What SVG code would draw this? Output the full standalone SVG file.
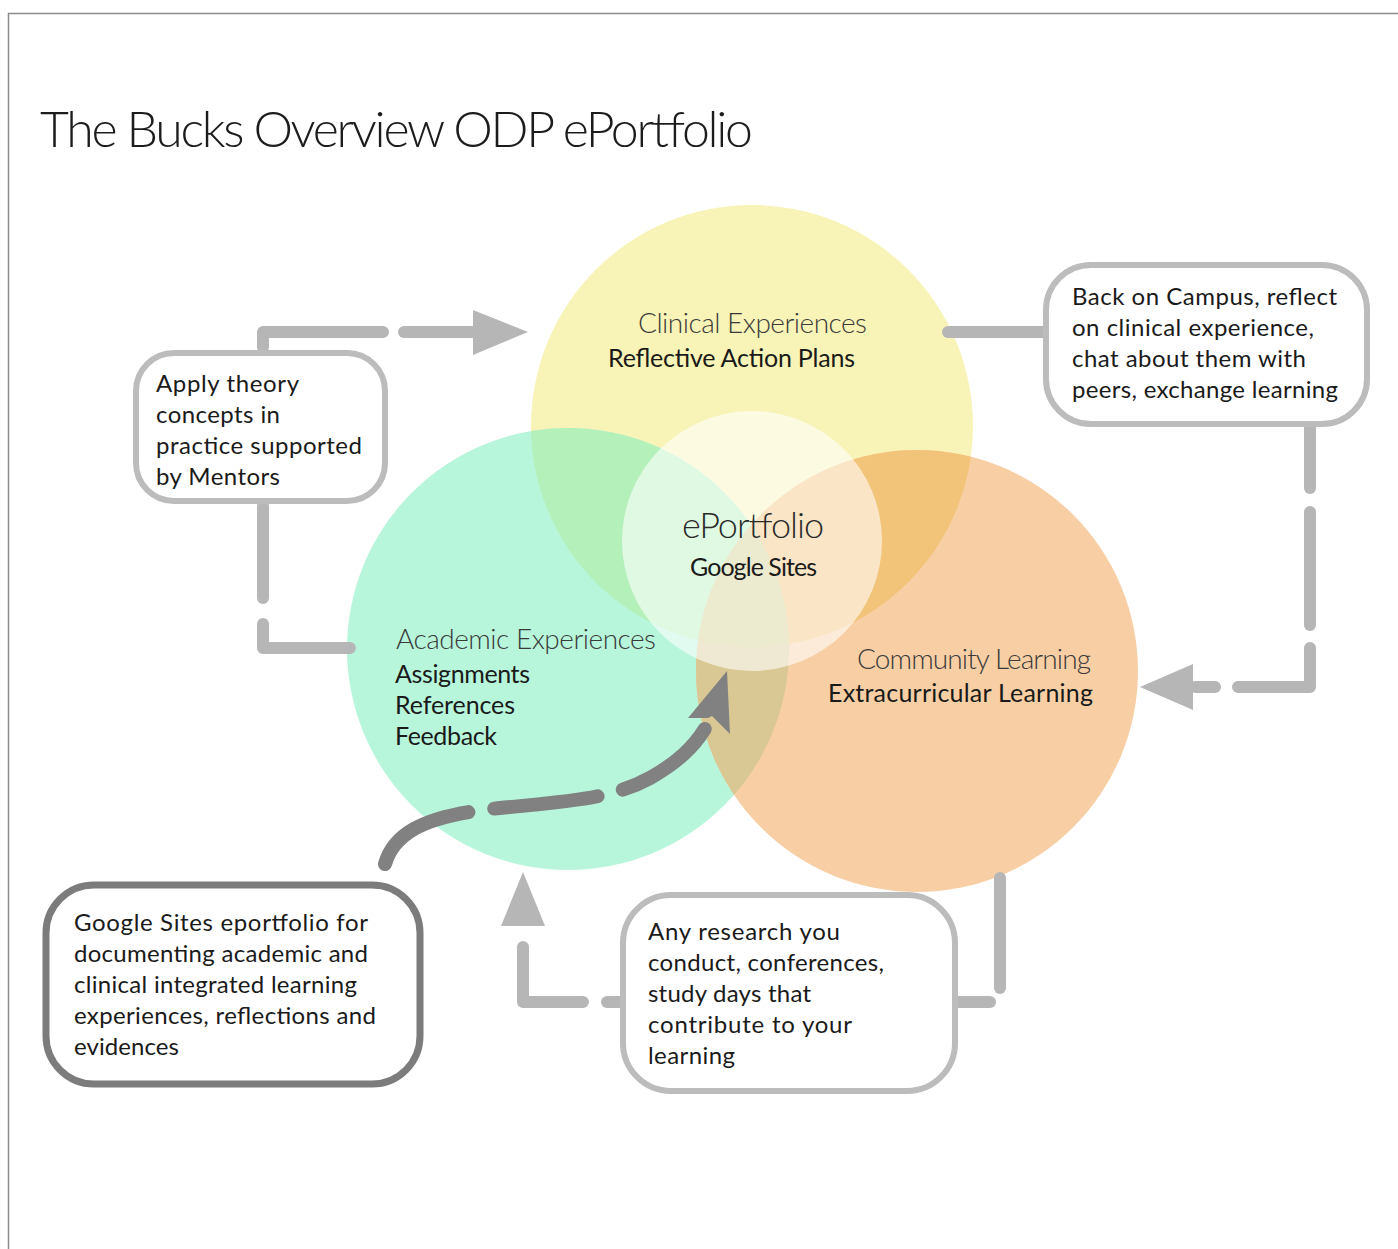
<svg xmlns="http://www.w3.org/2000/svg" width="1398" height="1249" viewBox="0 0 1398 1249">
  <defs>
    <style>
      .title { font-family: Lato, "Liberation Sans", sans-serif; font-weight: 300; font-size: 50px; fill: #1c1c1c; }
      .head { font-family: Lato, "Liberation Sans", sans-serif; font-weight: 300; font-size: 28px; fill: #3a3a3a; }
      .core { font-family: Lato, "Liberation Sans", sans-serif; font-weight: 300; font-size: 36px; fill: #2a2a2a; }
      .sub { font-family: Lato, "Liberation Sans", sans-serif; font-size: 25px; fill: #1a1a1a; }
      .body { font-family: Lato, "Liberation Sans", sans-serif; font-size: 24px; fill: #1a1a1a; }
      .box { fill: #ffffff; stroke: #bcbcbc; stroke-width: 6; }
      .box-dark { fill: #ffffff; stroke: #7c7c7c; stroke-width: 7; }
      .link { fill: none; stroke: #b6b6b6; stroke-width: 12; stroke-linecap: round; stroke-linejoin: round; }
      .head-fill { fill: #b6b6b6; }
      .flow { fill: none; stroke: #818181; stroke-width: 14; stroke-linecap: round; stroke-dasharray: 104 26; }
    </style>
    <clipPath id="inClinical"><circle cx="752" cy="426" r="221"/></clipPath>
    <clipPath id="inAcademic"><circle cx="568" cy="649" r="221"/></clipPath>
  </defs>

  <rect width="1398" height="1249" fill="#ffffff"/>
  <!-- page frame -->
  <path d="M8.5,1249 V13.5 H1398" fill="none" stroke="#8c8c8c" stroke-width="1.5"/>

  <text class="title" x="40" y="147" textLength="713">The Bucks Overview ODP ePortfolio</text>

  <!-- overlapping learning areas -->
  <g id="clinical">
    <circle cx="752" cy="426" r="221" fill="#f8f3b6"/>
  </g>
  <g id="academic">
    <circle cx="568" cy="649" r="221" fill="#b8f6dc"/>
  </g>
  <g id="community">
    <circle cx="917" cy="671" r="221" fill="#f8cfa5"/>
  </g>
  <g id="overlaps">
    <g clip-path="url(#inClinical)">
      <circle cx="568" cy="649" r="221" fill="#b4f0b9"/>
      <circle cx="917" cy="671" r="221" fill="#f2c47a"/>
    </g>
    <g clip-path="url(#inAcademic)">
      <circle cx="917" cy="671" r="221" fill="#d9c893"/>
      <g clip-path="url(#inClinical)">
        <circle cx="917" cy="671" r="221" fill="#d2cf8c"/>
      </g>
    </g>
  </g>
  <g id="eportfolio">
    <circle cx="752" cy="541" r="130" fill="#ffffff" fill-opacity="0.58"/>
  </g>

  <!-- connectors -->
  <g id="connectors">
    <!-- mentors box to clinical -->
    <path class="link" d="M263,347 V332 H383"/>
    <path class="link" d="M404,332 H478"/>
    <polygon class="head-fill" points="473,310 528,332 473,355"/>
    <!-- mentors box to academic -->
    <path class="link" d="M263,506 V598"/>
    <path class="link" d="M263,624 V648 H350"/>
    <!-- clinical to campus box -->
    <path class="link" d="M948,332 H1044"/>
    <!-- campus box to community -->
    <path class="link" d="M1310,428 V488"/>
    <path class="link" d="M1310,512 V625"/>
    <path class="link" d="M1310,648 V687 H1238"/>
    <path class="link" d="M1215,687 H1195"/>
    <polygon class="head-fill" points="1193,664 1140,687 1193,710"/>
    <!-- community to research box -->
    <path class="link" d="M1000,878 V988"/>
    <path class="link" d="M958,1002 H990"/>
    <!-- research box to academic -->
    <path class="link" d="M619,1002 H607"/>
    <path class="link" d="M583,1002 H523 V947"/>
    <polygon class="head-fill" points="501,926 523,872 545,926"/>
    <!-- google sites box into the ePortfolio -->
    <path class="flow" d="M385,864 C396,826 440,814 500,808 C560,802 610,800 650,778 C685,758 700,740 712,716"/>
    <polygon fill="#818181" points="727,671 688,718 708,718 712,716 730,734"/>
  </g>

  <!-- text boxes -->
  <g id="mentors">
    <rect class="box" x="136" y="353" width="249" height="148" rx="38"/>
    <text class="body" x="156" y="392" textLength="143">Apply theory</text>
    <text class="body" x="156" y="423" textLength="124">concepts in</text>
    <text class="body" x="156" y="454" textLength="206">practice supported</text>
    <text class="body" x="156" y="485" textLength="124">by Mentors</text>
  </g>
  <g id="campus">
    <rect class="box" x="1046" y="265" width="321" height="159" rx="45"/>
    <text class="body" x="1072" y="305" textLength="265">Back on Campus, reflect</text>
    <text class="body" x="1072" y="336" textLength="242">on clinical experience,</text>
    <text class="body" x="1072" y="367" textLength="234">chat about them with</text>
    <text class="body" x="1072" y="398" textLength="266">peers, exchange learning</text>
  </g>
  <g id="research">
    <rect class="box" x="623" y="895" width="332" height="196" rx="48"/>
    <text class="body" x="648" y="940" textLength="192">Any research you</text>
    <text class="body" x="648" y="971" textLength="236">conduct, conferences,</text>
    <text class="body" x="648" y="1002" textLength="163">study days that</text>
    <text class="body" x="648" y="1033" textLength="204">contribute to your</text>
    <text class="body" x="648" y="1064" textLength="87">learning</text>
  </g>
  <g id="google-sites">
    <rect class="box-dark" x="46" y="885" width="374" height="199" rx="48"/>
    <text class="body" x="74" y="931" textLength="294">Google Sites eportfolio for</text>
    <text class="body" x="74" y="962" textLength="294">documenting academic and</text>
    <text class="body" x="74" y="993" textLength="283">clinical integrated learning</text>
    <text class="body" x="74" y="1024" textLength="302">experiences, reflections and</text>
    <text class="body" x="74" y="1055" textLength="105">evidences</text>
  </g>

  <!-- circle labels -->
  <g id="labels">
    <text class="head" x="638" y="333" textLength="229">Clinical Experiences</text>
    <text class="sub" x="608" y="367" textLength="247">Reflective Action Plans</text>
    <text class="core" x="682" y="538" textLength="142">ePortfolio</text>
    <text class="sub" x="690" y="576" textLength="127">Google Sites</text>
    <text class="head" x="396" y="649" textLength="260">Academic Experiences</text>
    <text class="sub" x="395" y="683" textLength="135">Assignments</text>
    <text class="sub" x="395" y="714" textLength="120">References</text>
    <text class="sub" x="395" y="745" textLength="102">Feedback</text>
    <text class="head" x="857" y="669" textLength="234">Community Learning</text>
    <text class="sub" x="828" y="702" textLength="265">Extracurricular Learning</text>
  </g>
</svg>
